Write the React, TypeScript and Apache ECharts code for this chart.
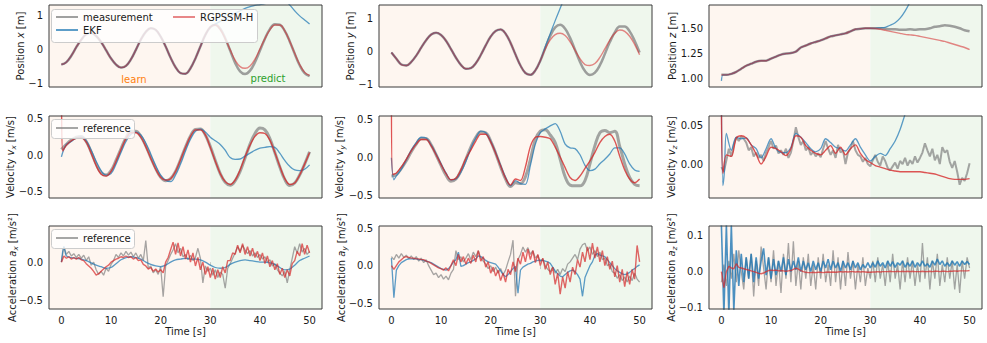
import React, { useEffect, useRef } from "react";
import * as echarts from "echarts";

const FONT = "DejaVu Sans";
const TXT = "#1a1a1a";
const T_MIN = -2.5;
const T_MAX = 52.5;
const T_SPLIT = 30;
const TIME_TICKS = [0, 10, 20, 30, 40, 50];
const T1 = Array.from({ length: 51 }, (_, i) => i);
const T05 = Array.from({ length: 101 }, (_, i) => i * 0.5);

// ---------- Position ----------
const posXMeas = [-0.43, -0.36, -0.17, 0.08, 0.3, 0.46, 0.5, 0.41, 0.23, -0.01, -0.25, -0.43, -0.52, -0.47, -0.28, 0.0, 0.3, 0.53, 0.64, 0.59, 0.39, 0.1, -0.23, -0.51, -0.68, -0.7, -0.54, -0.25, 0.1, 0.44, 0.67, 0.74, 0.62, 0.34, -0.02, -0.38, -0.63, -0.71, -0.61, -0.36, -0.02, 0.33, 0.61, 0.755, 0.74, 0.56, 0.25, -0.11, -0.45, -0.68, -0.77];
const posXRgpPred = [0.73, 0.6, 0.33, 0.0, -0.3, -0.49, -0.54, -0.47, -0.27, 0.03, 0.33, 0.59, 0.73, 0.73, 0.56, 0.25, -0.1, -0.43, -0.66, -0.75];
const posXEkfPred = [0.76, 0.84, 0.92, 1.0, 1.08, 1.15, 1.22, 1.27, 1.31, 1.33, 1.36, 1.42, 1.48, 1.5, 1.45, 1.32, 1.15, 1.0, 0.88, 0.76];

const posYMeas = [-0.03, -0.22, -0.4, -0.43, -0.32, -0.125, 0.12, 0.35, 0.52, 0.58, 0.51, 0.33, 0.075, -0.19, -0.41, -0.53, -0.51, -0.36, -0.107, 0.19, 0.46, 0.63, 0.68, 0.55, 0.265, -0.09, -0.43, -0.66, -0.716, -0.58, -0.28, 0.11, 0.48, 0.74, 0.82, 0.7, 0.42, 0.05, -0.32, -0.6, -0.72, -0.65, -0.42, -0.075, 0.29, 0.59, 0.77, 0.77, 0.62, 0.33, -0.03];
const posYRgpPred = [0.08, 0.36, 0.52, 0.56, 0.49, 0.3, 0.04, -0.22, -0.4, -0.43, -0.37, -0.18, 0.08, 0.35, 0.56, 0.66, 0.62, 0.47, 0.22, -0.1];
const posYEkfPred = [0.15, 0.55, 0.95, 1.33, 1.7, 2.08];

const posZMeas = [1.04, 1.04, 1.05, 1.07, 1.1, 1.13, 1.15, 1.17, 1.18, 1.18, 1.2, 1.22, 1.24, 1.25, 1.255, 1.27, 1.31, 1.33, 1.35, 1.365, 1.38, 1.4, 1.42, 1.43, 1.44, 1.45, 1.47, 1.49, 1.495, 1.5, 1.5, 1.5, 1.5, 1.495, 1.49, 1.49, 1.485, 1.485, 1.49, 1.485, 1.49, 1.49, 1.5, 1.515, 1.52, 1.53, 1.525, 1.515, 1.5, 1.48, 1.47];
const posZRgpPred = [1.498, 1.49, 1.48, 1.47, 1.46, 1.45, 1.44, 1.435, 1.43, 1.42, 1.41, 1.4, 1.39, 1.38, 1.37, 1.355, 1.34, 1.325, 1.31, 1.29];
const posZEkfPred = [1.5, 1.505, 1.51, 1.53, 1.555, 1.6, 1.67, 1.76, 1.87, 2.0];
const posZEkfHead = [[0, 0.98], [0.3, 1.04]];

// ---------- Velocity ----------
const velXRef = [0.08, 0.15, 0.21, 0.25, 0.26, 0.19, 0.045, -0.12, -0.24, -0.27, -0.21, -0.07, 0.09, 0.24, 0.33, 0.33, 0.26, 0.13, -0.03, -0.18, -0.3, -0.35, -0.32, -0.22, -0.06, 0.115, 0.265, 0.355, 0.36, 0.28, 0.12, -0.07, -0.25, -0.37, -0.41, -0.35, -0.22, -0.035, 0.155, 0.3, 0.375, 0.35, 0.23, 0.04, -0.16, -0.33, -0.415, -0.38, -0.27, -0.12, 0.05];
const velXRgpHead = [[0, 1.2], [0.25, 0.06]];
const velXRgp = [0.14, 0.2, 0.235, 0.24, 0.18, 0.03, -0.14, -0.26, -0.285, -0.22, -0.08, 0.08, 0.23, 0.31, 0.31, 0.25, 0.12, -0.04, -0.19, -0.3, -0.34, -0.32, -0.22, -0.06, 0.11, 0.26, 0.35, 0.35, 0.28, 0.11, -0.08, -0.25, -0.36, -0.4, -0.34, -0.2, -0.02, 0.14, 0.26, 0.31, 0.3, 0.21, 0.04, -0.15, -0.32, -0.4, -0.38, -0.27, -0.12, 0.04];
const velXEkf = [-0.02, 0.15, 0.19, 0.24, 0.25, 0.2, 0.07, -0.08, -0.21, -0.27, -0.25, -0.12, 0.04, 0.19, 0.29, 0.32, 0.28, 0.17, 0.02, -0.14, -0.27, -0.34, -0.36, -0.27, -0.12, 0.06, 0.22, 0.33, 0.36, 0.32, 0.25, 0.2, 0.15, 0.07, -0.03, -0.055, -0.05, -0.01, 0.03, 0.07, 0.1, 0.11, 0.12, 0.11, 0.03, -0.07, -0.15, -0.2, -0.21, -0.19, -0.13];

const velYRef = [-0.24, -0.22, -0.14, -0.04, 0.08, 0.18, 0.25, 0.25, 0.17, 0.04, -0.1, -0.23, -0.31, -0.28, -0.17, -0.02, 0.14, 0.27, 0.34, 0.33, 0.22, 0.06, -0.12, -0.28, -0.38, -0.33, -0.34, -0.25, -0.02, 0.24, 0.35, 0.37, 0.3, 0.2, -0.02, -0.25, -0.36, -0.37, -0.37, -0.3, -0.08, 0.16, 0.33, 0.36, 0.33, 0.35, 0.15, -0.08, -0.26, -0.35, -0.37];
const velYRgpHead = [[0, 1.0], [0.25, -0.22]];
const velYRgp = [-0.2, -0.12, -0.02, 0.09, 0.18, 0.24, 0.24, 0.16, 0.04, -0.09, -0.21, -0.29, -0.27, -0.16, -0.01, 0.1, 0.22, 0.31, 0.31, 0.21, 0.06, -0.11, -0.27, -0.36, -0.28, -0.3, -0.12, 0.15, 0.27, 0.28, 0.27, 0.25, 0.14, 0.01, -0.13, -0.26, -0.3, -0.24, -0.14, -0.04, 0.07, 0.2, 0.28, 0.31, 0.22, 0.02, -0.16, -0.28, -0.33, -0.28];
const velYEkfHead = [[0, 0.0], [0.5, -0.29]];
const velYEkf = [-0.24, -0.15, -0.03, 0.1, 0.2, 0.27, 0.26, 0.17, 0.05, -0.08, -0.2, -0.29, -0.28, -0.19, -0.05, 0.13, 0.26, 0.35, 0.33, 0.22, 0.07, -0.1, -0.26, -0.37, -0.3, -0.34, -0.35, -0.1, 0.18, 0.33, 0.38, 0.42, 0.45, 0.35, 0.18, 0.13, 0.12, 0.04, -0.1, -0.17, -0.15, -0.08, -0.02, 0.05, 0.13, 0.13, 0.05, -0.08, -0.16, -0.18];

const velZRef = [
  -0.004, -0.01, 0.005, 0.02, 0.01, 0.025, 0.035, 0.03, 0.036, 0.033,
  0.028, 0.018, 0.022, 0.01, 0.015, 0.008, 0.012, 0.004, 0.015, 0.022,
  0.03, 0.02, 0.024, 0.014, 0.018, 0.012, 0.02, 0.008, 0.015, 0.03,
  0.048, 0.035, 0.025, 0.03, 0.018, 0.022, 0.012, 0.016, 0.01, 0.014,
  0.009, 0.02, 0.03, 0.02, 0.012, 0.018, 0.008, 0.025, 0.015, 0.018,
  0.0, 0.015, 0.02, 0.03, 0.018, 0.012, 0.01, 0.003, 0.008, 0.0,
  -0.003, 0.005, 0.012, 0.003, -0.002, 0.01, 0.004, -0.005, -0.008, -0.003,
  0.002, -0.006, 0.004, 0.0, 0.008, -0.002, 0.005, 0.0, 0.01, 0.002,
  0.008, 0.015, 0.027, 0.018, 0.01, 0.02, 0.005, 0.012, 0.0, 0.022,
  0.015, 0.018, 0.003, -0.005, 0.004, -0.01, -0.027, -0.018, -0.022, -0.012,
  0.001,
];
const velZRgpHead = [[0, 0.08], [0.3, -0.012]];
const velZRgp = [0.012, 0.01, 0.034, 0.037, 0.034, 0.025, 0.013, 0.0, 0.01, 0.022, 0.02, 0.016, 0.011, 0.02, 0.037, 0.035, 0.024, 0.018, 0.014, 0.012, 0.018, 0.024, 0.014, 0.022, 0.012, 0.02, 0.025, 0.014, 0.006, 0.002, -0.002, -0.004, -0.006, -0.008, -0.009, -0.01, -0.01, -0.01, -0.01, -0.01, -0.011, -0.012, -0.013, -0.015, -0.017, -0.019, -0.02, -0.02, -0.02, -0.019];
const velZEkfHead = [[0, 0.08], [0.3, -0.028], [0.6, -0.01]];
const velZEkf = [0.04, 0.018, 0.035, 0.033, 0.034, 0.025, 0.02, 0.008, 0.02, 0.033, 0.02, 0.015, 0.015, 0.022, 0.04, 0.035, 0.028, 0.02, 0.016, 0.02, 0.033, 0.028, 0.022, 0.02, 0.017, 0.025, 0.033, 0.022, 0.012, 0.004, 0.01, 0.014, 0.011, 0.02, 0.03, 0.045, 0.065, 0.085, 0.1];

// ---------- Acceleration (0.5 s steps) ----------
const accXRef = [
  0.0, 0.2, 0.1, 0.14, 0.08, 0.11, 0.06, 0.1, 0.05, 0.09,
  0.02, 0.07, -0.04, 0.0, -0.1, -0.16, -0.12, -0.17, -0.08, -0.12,
  -0.03, 0.02, 0.1, 0.06, 0.12, 0.08, 0.14, 0.09, 0.13, 0.07,
  0.12, 0.05, 0.1, 0.02, 0.28, -0.08, -0.05, -0.14, -0.1, -0.16,
  -0.06, -0.45, -0.05, 0.02, 0.1, 0.16, 0.24, 0.12, 0.18, 0.07,
  0.1, 0.03, 0.09, 0.02, 0.06, 0.18, 0.05, -0.27, -0.05, -0.12,
  -0.08, -0.17, -0.1, -0.2, -0.13, -0.16, -0.34, -0.08, -0.02, 0.05,
  0.12, 0.2, 0.14, 0.22, 0.16, 0.11, 0.15, 0.08, 0.12, 0.06,
  0.1, 0.04, 0.07, 0.0, 0.03, -0.05, -0.02, -0.1, -0.14, -0.18,
  -0.12, -0.27, -0.1, 0.05, 0.2, 0.12, 0.24, 0.13, 0.18, 0.1,
  0.14,
];
const accXRgp = [
  0.0, 0.08, 0.05, 0.07, 0.04, 0.06, 0.04, 0.06, 0.03, 0.02,
  -0.02, -0.05, -0.08, -0.12, -0.17, -0.15, -0.12, -0.09, -0.06, -0.04,
  0.0, 0.02, 0.04, 0.05, 0.07, 0.06, 0.08, 0.06, 0.07, 0.04,
  0.06, 0.02, 0.03, -0.03, -0.05, -0.09, -0.07, -0.12, -0.09, -0.13,
  -0.1, -0.14, 0.0, 0.06, 0.16, 0.26, 0.1, 0.25, 0.08, 0.2,
  0.04, 0.16, 0.0, 0.12, -0.05, 0.06, -0.1, 0.0, -0.16, -0.06,
  -0.2, -0.08, -0.22, -0.1, -0.2, -0.06, -0.14, 0.02, 0.02, 0.12,
  0.1, 0.22, 0.12, 0.24, 0.1, 0.2, 0.08, 0.18, 0.06, 0.14,
  0.02, 0.12, -0.02, 0.08, -0.06, 0.02, -0.1, -0.02, -0.16, -0.08,
  -0.2, -0.1, -0.18, -0.02, 0.02, 0.14, 0.08, 0.24, 0.1, 0.22,
  0.12,
];
const accXEkfHead = [[0, 0.0], [0.5, 0.2]];
const accXEkf = [0.08, 0.06, 0.05, 0.04, 0.02, -0.01, -0.04, -0.06, -0.08, -0.07, -0.02, 0.03, 0.06, 0.07, 0.06, 0.04, 0.0, -0.03, -0.05, -0.06, -0.04, 0.0, 0.03, 0.04, 0.05, 0.04, 0.04, 0.03, 0.0, -0.04, -0.07, -0.08, -0.07, -0.03, 0.0, 0.02, 0.03, 0.02, 0.01, 0.0, 0.0, -0.01, -0.03, -0.07, -0.1, -0.09, -0.04, 0.02, 0.05, 0.08];

const accYRef = [
  0.12, 0.08, 0.15, 0.1, 0.16, 0.11, 0.14, 0.09, 0.13, 0.08,
  0.12, 0.06, 0.1, 0.04, 0.08, 0.0, -0.06, -0.12, -0.1, -0.16,
  -0.12, -0.18, -0.14, -0.19, -0.1, -0.05, 0.2, 0.08, 0.12, 0.05,
  0.1, 0.16, 0.08, 0.18, 0.12, 0.2, 0.1, 0.06, 0.02, -0.04,
  0.0, -0.08, -0.02, -0.1, -0.04, -0.12, -0.06, 0.05, 0.15, 0.34,
  -0.41, 0.08, 0.15, 0.25, 0.18, 0.24, 0.15, 0.2, 0.1, 0.14,
  0.05, 0.09, 0.0, -0.05, -0.08, -0.02, -0.1, -0.05, -0.12, -0.04,
  -0.08, 0.02, 0.05, 0.1, 0.15, 0.08, 0.22, 0.28, 0.3, 0.2,
  0.25, 0.15, 0.2, 0.12, 0.18, 0.08, 0.1, 0.0, 0.02, -0.08,
  -0.1, -0.17, -0.12, -0.2, -0.15, -0.22, -0.14, -0.2, -0.1, -0.18,
  -0.22,
];
const accYRgp = [
  0.0, -0.05, 0.0, 0.05, 0.08, 0.11, 0.12, 0.11, 0.1, 0.1,
  0.09, 0.09, 0.08, 0.08, 0.06, 0.05, 0.03, 0.01, -0.01, -0.03,
  -0.04, -0.06, -0.03, -0.07, 0.0, 0.08, 0.0, 0.15, 0.05, 0.12,
  0.02, 0.1, 0.03, 0.14, 0.05, 0.2, 0.06, 0.12, -0.02, 0.05,
  -0.1, -0.02, -0.14, -0.06, -0.2, -0.1, -0.22, -0.05, -0.12, 0.05,
  -0.08, 0.1, 0.02, 0.18, 0.05, 0.22, 0.08, 0.2, 0.04, 0.15,
  0.0, 0.1, -0.05, 0.05, -0.12, -0.02, -0.25, -0.1, -0.38, -0.15,
  -0.3, -0.08, -0.22, -0.02, -0.12, 0.08, -0.02, 0.18, 0.05, 0.25,
  0.08, 0.3, 0.1, 0.25, 0.05, 0.2, 0.0, 0.12, -0.05, 0.06,
  -0.15, 0.0, -0.22, -0.05, -0.28, -0.08, -0.25, -0.05, -0.18, 0.27,
  0.05,
];
const accYEkf = [
  0.1, -0.43, -0.06, 0.0, 0.04, 0.06, 0.08, 0.09, 0.09, 0.09,
  0.09, 0.08, 0.08, 0.07, 0.06, 0.05, 0.04, 0.02, 0.0, -0.02,
  -0.04, -0.05, -0.06, -0.04, 0.0, 0.05, 0.08, 0.18, -0.01, 0.0,
  0.02, 0.04, 0.05, 0.07, 0.09, 0.13, 0.12, 0.1, 0.07, 0.05,
  0.04, 0.03, 0.02, -0.02, -0.07, -0.12, -0.15, -0.12, -0.08, -0.04,
  -0.01, -0.37, -0.06, -0.02, 0.0, 0.02, 0.03, 0.05, 0.06, 0.07,
  0.075, 0.07, 0.06, 0.05, 0.03, -0.02, -0.07, -0.11, -0.14, -0.15,
  -0.12, -0.09, -0.07, -0.06, -0.08, -0.12, -0.18, -0.41, -0.16, -0.08,
  0.0, 0.05, 0.14, 0.16, 0.14, 0.13, 0.12, 0.08, 0.04, 0.0,
  -0.04, -0.07, -0.09, -0.11, -0.12, -0.11, -0.09, -0.06, -0.04, -0.01,
  0.01,
];

const accZRef = [
  -0.03, 0.02, -0.04, 0.03, -0.02, 0.05, -0.03, 0.06, 0.0, -0.05,
  0.04, -0.02, 0.05, -0.07, 0.03, -0.04, 0.07, 0.01, -0.05, 0.04,
  -0.03, 0.06, -0.04, 0.03, -0.06, 0.05, -0.02, 0.08, -0.03, 0.085,
  -0.04, 0.03, -0.05, 0.04, -0.02, 0.05, -0.04, 0.02, -0.05, 0.04,
  -0.02, 0.05, -0.03, 0.02, -0.04, 0.06, -0.03, 0.04, -0.05, 0.03,
  -0.04, 0.055, -0.02, 0.03, -0.05, 0.02, -0.03, 0.04, -0.04, 0.01,
  -0.02, 0.03, -0.03, 0.04, -0.02, 0.02, -0.04, 0.03, -0.03, 0.05,
  -0.02, 0.02, -0.05, 0.03, -0.03, 0.04, -0.02, 0.03, -0.04, 0.02,
  -0.03, 0.08, -0.02, 0.04, -0.05, 0.03, -0.02, 0.05, -0.04, 0.02,
  -0.03, 0.04, -0.02, 0.03, -0.05, 0.02, -0.06, 0.03, -0.02, 0.04,
  0.01,
];
const accZRgp = [
  0.0, -0.045, 0.0, 0.015, 0.01, 0.008, 0.022, 0.012, 0.01, 0.008,
  0.006, 0.004, 0.002, 0.0, -0.002, -0.005, -0.006, -0.004, 0.0, 0.003,
  0.004, 0.003, 0.004, 0.002, 0.003, 0.002, 0.001, 0.002, 0.003, 0.006,
  0.01, 0.007, 0.003, 0.0, -0.002, -0.003, -0.003, -0.002, -0.003, -0.002,
  -0.002, -0.003, -0.002, -0.001, -0.002, -0.001, -0.002, -0.001, 0.0, -0.001,
  0.0, -0.001, 0.0, 0.0, -0.001, 0.0, -0.001, 0.0, -0.001, -0.002,
  -0.002, -0.001, -0.001, 0.0, -0.001, 0.0, 0.0, 0.0, 0.001, 0.0,
  0.0, 0.001, 0.0, 0.001, 0.0, 0.001, 0.0, 0.001, 0.0, 0.0,
  0.0, 0.001, 0.0, 0.0, 0.001, 0.0, 0.001, 0.001, 0.0, 0.001,
  0.001, 0.0, 0.001, 0.001, 0.002, 0.001, 0.002, 0.002, 0.002, 0.002,
  0.003,
];
const accZEkf = [
  0.13, -0.12, 0.13, -0.12, 0.13, -0.11, 0.06, -0.04, 0.05, -0.03,
  0.04, -0.02, 0.05, -0.03, 0.04, -0.02, 0.03, 0.065, -0.01, 0.04,
  -0.02, 0.035, -0.01, 0.03, 0.0, 0.04, -0.01, 0.035, 0.0, 0.03,
  0.005, 0.04, 0.0, 0.03, 0.005, 0.025, 0.0, 0.03, 0.005, 0.025,
  0.0, 0.03, 0.01, 0.035, 0.005, 0.03, 0.01, 0.025, 0.0, 0.03,
  0.01, 0.025, 0.005, 0.03, 0.01, 0.025, 0.005, 0.02, 0.01, 0.025,
  0.01, 0.025, 0.012, 0.03, 0.015, 0.025, 0.01, 0.03, 0.015, 0.028,
  0.012, 0.025, 0.018, 0.03, 0.012, 0.025, 0.015, 0.03, 0.012, 0.025,
  0.015, 0.03, 0.015, 0.022, 0.012, 0.03, 0.018, 0.035, 0.02, 0.03,
  0.015, 0.025, 0.015, 0.03, 0.018, 0.028, 0.015, 0.03, 0.02, 0.028,
  0.02,
];

// ---------- helpers ----------
const zip = (ts: number[], vs: number[]) => vs.map((v, i) => [ts[i], v]);
const fromOne = (vs: number[]) => vs.map((v, i) => [i + 1, v]);
const withPred = (meas: number[], pred: number[]) =>
  zip(T1, [...meas.slice(0, T_SPLIT + 1), ...pred]);

type Sty = { color: string; width: number };
const GRAY_POS: Sty = { color: "rgba(128,128,128,0.75)", width: 2.5 };
const GRAY_VEL: Sty = { color: "rgba(128,128,128,0.7)", width: 3 };
const GRAY_VZ: Sty = { color: "rgba(128,128,128,0.7)", width: 2 };
const GRAY_ACC: Sty = { color: "rgba(128,128,128,0.7)", width: 1.3 };
const BLUE: Sty = { color: "rgba(31,119,180,0.72)", width: 1.3 };
const BLUE_AZ: Sty = { color: "rgba(31,119,180,0.8)", width: 1.6 };
const RED_POS: Sty = { color: "rgba(214,39,40,0.55)", width: 1.4 };
const RED: Sty = { color: "rgba(214,39,40,0.78)", width: 1.4 };
const RED_ACC: Sty = { color: "rgba(214,39,40,0.7)", width: 1.4 };

const LEARN_BG = "#fef6f0";
const PREDICT_BG = "#eff7ed";

type Line = { name: string; data: number[][]; sty: Sty; smooth: number };
type Panel = {
  label: string;
  min: number;
  max: number;
  ticks: number[];
  dec: number;
  gap: number;
  lines: Line[];
};

const panels: Panel[] = [
  {
    label: "Position {i|x} [m]", min: -1.09, max: 1.32, ticks: [-1, 0, 1], dec: 0, gap: 22,
    lines: [
      { name: "measurement", data: zip(T1, posXMeas), sty: GRAY_POS, smooth: 0.4 },
      { name: "EKF", data: withPred(posXMeas, posXEkfPred), sty: BLUE, smooth: 0.4 },
      { name: "RGPSSM-H", data: withPred(posXMeas, posXRgpPred), sty: RED_POS, smooth: 0.4 },
    ],
  },
  {
    label: "Position {i|y} [m]", min: -1.09, max: 1.43, ticks: [-1, 0, 1], dec: 0, gap: 22,
    lines: [
      { name: "measurement", data: zip(T1, posYMeas), sty: GRAY_POS, smooth: 0.4 },
      { name: "EKF", data: withPred(posYMeas, posYEkfPred), sty: BLUE, smooth: 0.4 },
      { name: "RGPSSM-H", data: withPred(posYMeas, posYRgpPred), sty: RED_POS, smooth: 0.4 },
    ],
  },
  {
    label: "Position {i|z} [m]", min: 0.92, max: 1.73, ticks: [1, 1.25, 1.5], dec: 2, gap: 30,
    lines: [
      { name: "measurement", data: zip(T1, posZMeas), sty: GRAY_POS, smooth: 0.3 },
      { name: "EKF", data: [...posZEkfHead, ...withPred(posZMeas, posZEkfPred).slice(1)], sty: BLUE, smooth: 0.3 },
      { name: "RGPSSM-H", data: withPred(posZMeas, posZRgpPred), sty: RED_POS, smooth: 0.3 },
    ],
  },
  {
    label: "Velocity {i|v}{s|x} [m/s]", min: -0.585, max: 0.54, ticks: [-0.5, 0, 0.5], dec: 1, gap: 32,
    lines: [
      { name: "reference", data: zip(T1, velXRef), sty: GRAY_VEL, smooth: 0.4 },
      { name: "EKF", data: zip(T1, velXEkf), sty: BLUE, smooth: 0.4 },
      { name: "RGPSSM-H", data: [...velXRgpHead, ...fromOne(velXRgp)], sty: RED, smooth: 0.3 },
    ],
  },
  {
    label: "Velocity {i|v}{s|y} [m/s]", min: -0.53, max: 0.55, ticks: [-0.5, 0, 0.5], dec: 1, gap: 33,
    lines: [
      { name: "reference", data: zip(T1, velYRef), sty: GRAY_VEL, smooth: 0.4 },
      { name: "EKF", data: [...velYEkfHead, ...fromOne(velYEkf)], sty: BLUE, smooth: 0.3 },
      { name: "RGPSSM-H", data: [...velYRgpHead, ...fromOne(velYRgp)], sty: RED, smooth: 0.3 },
    ],
  },
  {
    label: "Velocity {i|v}{s|z} [m/s]", min: -0.0443, max: 0.0627, ticks: [0, 0.05], dec: 2, gap: 31,
    lines: [
      { name: "reference", data: zip(T05, velZRef), sty: GRAY_VZ, smooth: 0 },
      { name: "EKF", data: [...velZEkfHead, ...fromOne(velZEkf)], sty: BLUE, smooth: 0.3 },
      { name: "RGPSSM-H", data: [...velZRgpHead, ...fromOne(velZRgp)], sty: RED, smooth: 0.3 },
    ],
  },
  {
    label: "Acceleration {i|a}{s|x} [m/s²]", min: -0.61, max: 0.47, ticks: [-0.5, 0], dec: 1, gap: 30,
    lines: [
      { name: "reference", data: zip(T05, accXRef), sty: GRAY_ACC, smooth: 0 },
      { name: "EKF", data: [...accXEkfHead, ...fromOne(accXEkf)], sty: BLUE, smooth: 0.3 },
      { name: "RGPSSM-H", data: zip(T05, accXRgp), sty: RED_ACC, smooth: 0 },
    ],
  },
  {
    label: "Acceleration {i|a}{s|y} [m/s²]", min: -0.58, max: 0.53, ticks: [-0.5, 0, 0.5], dec: 1, gap: 31,
    lines: [
      { name: "reference", data: zip(T05, accYRef), sty: GRAY_ACC, smooth: 0 },
      { name: "EKF", data: zip(T05, accYEkf), sty: BLUE, smooth: 0 },
      { name: "RGPSSM-H", data: zip(T05, accYRgp), sty: RED_ACC, smooth: 0 },
    ],
  },
  {
    label: "Acceleration {i|a}{s|z} [m/s²]", min: -0.105, max: 0.128, ticks: [-0.1, 0, 0.1], dec: 1, gap: 31,
    lines: [
      { name: "reference", data: zip(T05, accZRef), sty: GRAY_ACC, smooth: 0 },
      { name: "EKF", data: zip(T05, accZEkf), sty: BLUE_AZ, smooth: 0 },
      { name: "RGPSSM-H", data: zip(T05, accZRgp), sty: RED_ACC, smooth: 0 },
    ],
  },
];

// ---------- layout ----------
const COL_LEFT = [49, 379, 709];
const ROW_TOP = [5, 116, 226];
const ROW_H = [82, 82, 83];
const PANEL_W = 273;

const baseText = { fontFamily: FONT, fontSize: 10, color: TXT };
const fmt = (d: number) => (v: number) => v.toFixed(d).replace("-", "\u2212");

function buildOption() {
  const grid: any[] = [];
  const xAxis: any[] = [];
  const yAxis: any[] = [];
  const series: any[] = [];

  panels.forEach((p, i) => {
    const r = Math.floor(i / 3);
    const c = i % 3;
    const bottom = r === 2;
    grid.push({
      left: COL_LEFT[c], top: ROW_TOP[r], width: PANEL_W, height: ROW_H[r],
      show: true, borderColor: "#3a3a3a", borderWidth: 1, backgroundColor: "transparent",
      z: 5, containLabel: false, outerBoundsMode: "none",
    });
    xAxis.push({
      type: "value", gridIndex: i, min: T_MIN, max: T_MAX,
      splitLine: { show: false }, axisLine: { show: false },
      axisTick: { show: bottom, customValues: TIME_TICKS, length: 3.5, lineStyle: { color: "#333" } },
      axisLabel: { show: bottom, customValues: TIME_TICKS, margin: 6, ...baseText },
      name: bottom ? "Time [s]" : "", nameLocation: "middle", nameGap: 17, nameMoveOverlap: false,
      nameTextStyle: { ...baseText },
    });
    yAxis.push({
      type: "value", gridIndex: i, min: p.min, max: p.max,
      splitLine: { show: false }, axisLine: { show: false },
      axisTick: { show: true, customValues: p.ticks, length: 3.5, lineStyle: { color: "#333" } },
      axisLabel: { customValues: p.ticks, formatter: fmt(p.dec), margin: 6, ...baseText },
      name: p.label, nameLocation: "middle", nameRotate: 90, nameGap: p.gap, nameMoveOverlap: false,
      nameTextStyle: {
        ...baseText, lineHeight: 14,
        rich: {
          i: { fontFamily: FONT, fontSize: 10, fontStyle: "italic", color: TXT, lineHeight: 14 },
          s: { fontFamily: FONT, fontSize: 7, fontStyle: "italic", color: TXT, lineHeight: 8, verticalAlign: "bottom" },
        },
      },
    });
    p.lines.forEach((ln, k) => {
      const s: any = {
        type: "line", name: ln.name, xAxisIndex: i, yAxisIndex: i, data: ln.data,
        showSymbol: false, symbol: "none", smooth: ln.smooth, clip: true, silent: true,
        color: ln.sty.color, lineStyle: { color: ln.sty.color, width: ln.sty.width }, z: 2,
      };
      if (k === 0) {
        s.markArea = {
          silent: true,
          label: { show: false },
          data: [
            [{ xAxis: T_MIN, itemStyle: { color: LEARN_BG, opacity: 1 } }, { xAxis: T_SPLIT }],
            [{ xAxis: T_SPLIT, itemStyle: { color: PREDICT_BG, opacity: 1 } }, { xAxis: T_MAX }],
          ],
        };
      }
      series.push(s);
    });
  });

  const legendBase = {
    orient: "vertical", itemGap: 3, itemWidth: 22, itemHeight: 2, icon: "rect",
    selectedMode: false, padding: 0, textStyle: { ...baseText }, z: 6,
  };

  return {
    animation: false,
    backgroundColor: "#ffffff",
    textStyle: { fontFamily: FONT },
    grid, xAxis, yAxis, series,
    legend: [
      { ...legendBase, left: 56, top: 12, data: ["measurement", "EKF"] },
      { ...legendBase, left: 173, top: 12, data: ["RGPSSM-H"] },
      { ...legendBase, left: 56, top: 123, data: ["reference"] },
      { ...legendBase, left: 56, top: 233, data: ["reference"] },
    ],
    graphic: {
      elements: [
        { type: "rect", z: 5, shape: { x: 51.5, y: 9.5, width: 206, height: 33, r: 3 }, style: { fill: "rgba(255,255,255,0.8)", stroke: "#cccccc", lineWidth: 1 } },
        { type: "rect", z: 5, shape: { x: 51.5, y: 119.5, width: 83, height: 19, r: 3 }, style: { fill: "rgba(255,255,255,0.8)", stroke: "#cccccc", lineWidth: 1 } },
        { type: "rect", z: 5, shape: { x: 51.5, y: 229.5, width: 83, height: 19, r: 3 }, style: { fill: "rgba(255,255,255,0.8)", stroke: "#cccccc", lineWidth: 1 } },
        { type: "text", z: 5, x: 134, y: 79, style: { text: "learn", fill: "#ff7f0e", fontFamily: FONT, fontSize: 10, align: "center", verticalAlign: "middle" } },
        { type: "text", z: 5, x: 268, y: 78, style: { text: "predict", fill: "#2ca02c", fontFamily: FONT, fontSize: 10, align: "center", verticalAlign: "middle" } },
      ],
    },
  };
}

export default function App() {
  const ref = useRef<HTMLDivElement>(null);
  useEffect(() => {
    if (!ref.current) return;
    const chart = echarts.init(ref.current, null, { renderer: "svg" });
    chart.setOption(buildOption() as any);
    return () => chart.dispose();
  }, []);
  return (
    <div
      ref={ref}
      style={{ position: "absolute", left: 0, top: 0, width: 987, height: 343, background: "#fff" }}
    />
  );
}
